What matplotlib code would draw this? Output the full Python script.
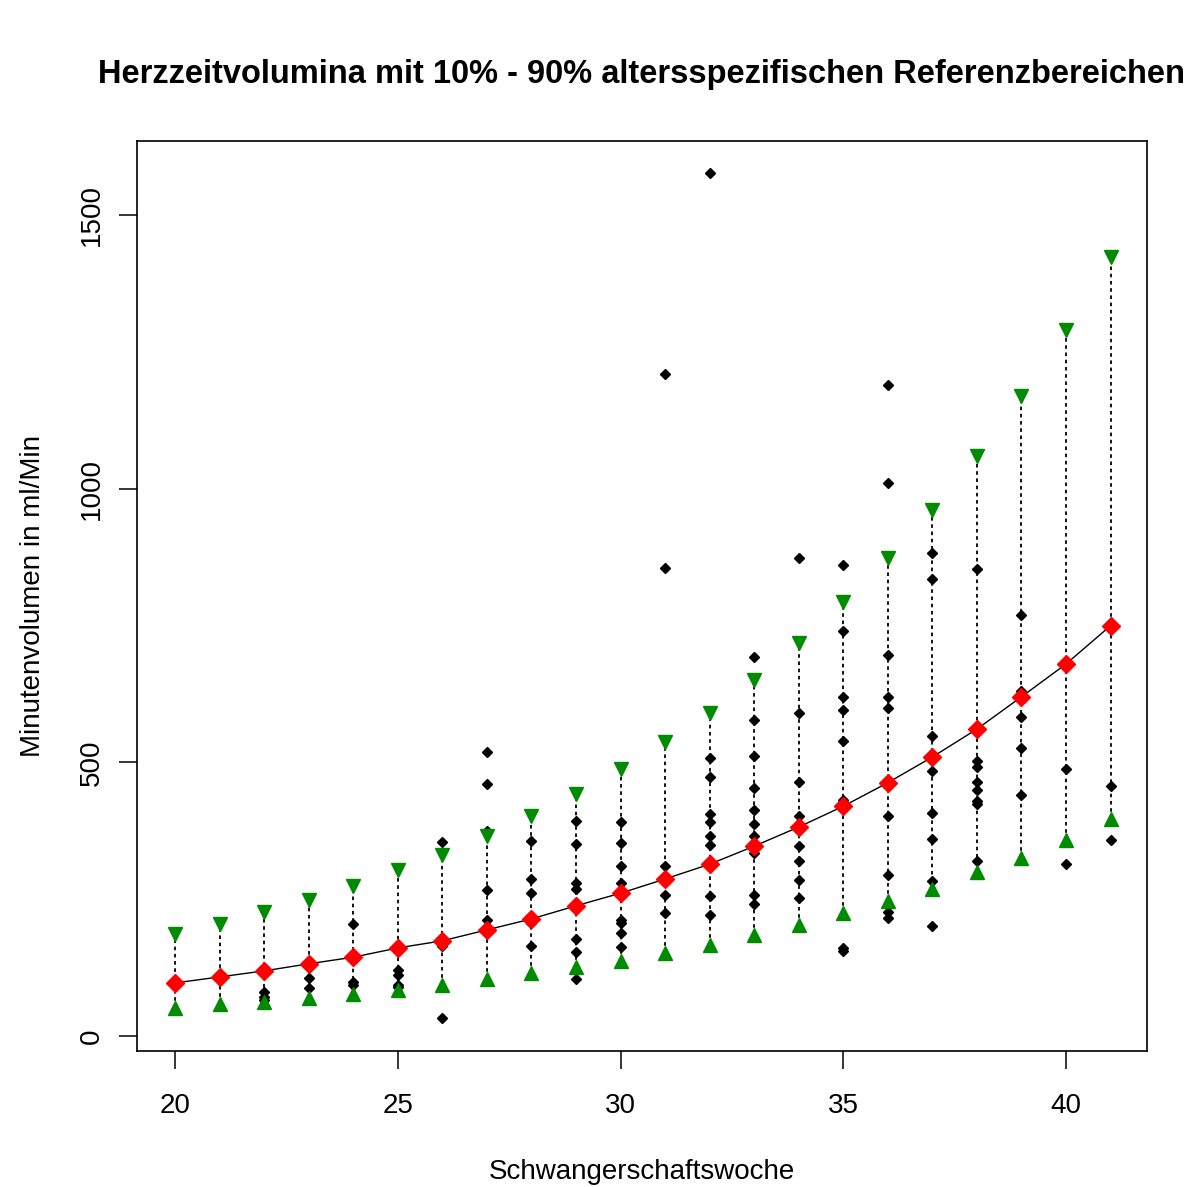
import matplotlib
matplotlib.use("Agg")
import matplotlib.pyplot as plt

plt.rcParams['font.family'] = ['Liberation Sans', 'DejaVu Sans']

weeks = list(range(20, 42))

# 50% line (medians)
median = [97, 108, 119, 132, 144, 161, 174, 194, 214, 238, 261, 287, 314, 347,
          382, 420, 463, 510, 561, 620, 680, 750]
# 90% upper reference
upper = [186, 205, 226, 249, 274, 303, 331, 366, 402, 442, 488, 537, 590, 651,
         718, 793, 874, 962, 1060, 1170, 1291, 1424]
# 10% lower reference
lower = [52, 58, 63, 69, 77, 84, 94, 104, 115, 127, 138, 151, 166, 185,
         203, 225, 247, 269, 299, 326, 359, 397]

# observed values per week
obs = {
    20: [],
    21: [],
    22: [80, 72, 66],
    23: [106, 87],
    24: [204, 98, 94],
    25: [120, 112, 93, 89],
    26: [355, 170, 165, 33],
    27: [519, 460, 374, 266, 212],
    28: [356, 287, 261, 207, 165],
    29: [393, 351, 279, 268, 177, 153, 104],
    30: [392, 353, 311, 279, 212, 206, 188, 163],
    31: [1211, 856, 311, 258, 225],
    32: [1577, 508, 474, 406, 392, 366, 349, 256, 222],
    33: [692, 578, 511, 454, 414, 387, 366, 334, 258, 241],
    34: [874, 590, 464, 402, 347, 320, 286, 253],
    35: [861, 741, 619, 596, 539, 432, 160, 156],
    36: [1190, 1010, 697, 619, 599, 403, 294, 227, 215],
    37: [882, 835, 549, 485, 407, 361, 284, 201],
    38: [854, 503, 492, 465, 449, 429, 424, 319],
    39: [769, 630, 584, 526, 441],
    40: [488, 315],
    41: [457, 359],
}

xticks = [20, 25, 30, 35, 40]
yticks = [0, 500, 1000, 1500]

fig = plt.figure(figsize=(12.03, 11.87), dpi=100)
ax = fig.add_axes([137/1203, 1 - 1051/1187, (1147-137)/1203, (1051-141)/1187])

green = '#008B00'

ax.vlines(weeks, lower, upper, colors='black', linestyles=(0, (2, 2)), linewidth=1.3, zorder=1)
ax.plot(weeks, median, color='black', linewidth=1.0, zorder=2)

ox = [w for w in weeks for v in obs[w]]
oy = [v for w in weeks for v in obs[w]]
ax.plot(ox, oy, linestyle='none', marker='D', markersize=4.8, color='black', zorder=3)

ax.plot(weeks, upper, linestyle='none', marker='v', markersize=10, color=green, zorder=4)
ax.plot(weeks, lower, linestyle='none', marker='^', markersize=10, color=green, zorder=4)
ax.plot(weeks, median, linestyle='none', marker='D', markersize=9.5, color='red', zorder=5)

ax.set_xlim(19.147, 41.818)
ax.set_ylim(-27.4, 1636)
ax.set_xticks(xticks)
ax.set_yticks(yticks)
ax.set_xticklabels([str(t) for t in xticks])
ax.set_yticklabels([str(t) for t in yticks], rotation=90, va='center')
ax.tick_params(axis='both', direction='out', length=13, width=1.1, labelsize=20)
ax.tick_params(axis='x', pad=17)
ax.tick_params(axis='y', pad=10)
for s in ax.spines.values():
    s.set_linewidth(1.2)

ax.set_xlabel('Schwangerschaftswoche', fontsize=20, labelpad=29)
ax.set_ylabel('Minutenvolumen in ml/Min', fontsize=20, labelpad=24)
fig.text(642/1203, 1 - 75/1187, 'Herzzeitvolumina mit 10% - 90% altersspezifischen Referenzbereichen',
         ha='center', va='center', fontsize=23.5, fontweight='bold')

fig.savefig('out.png', dpi=100)
